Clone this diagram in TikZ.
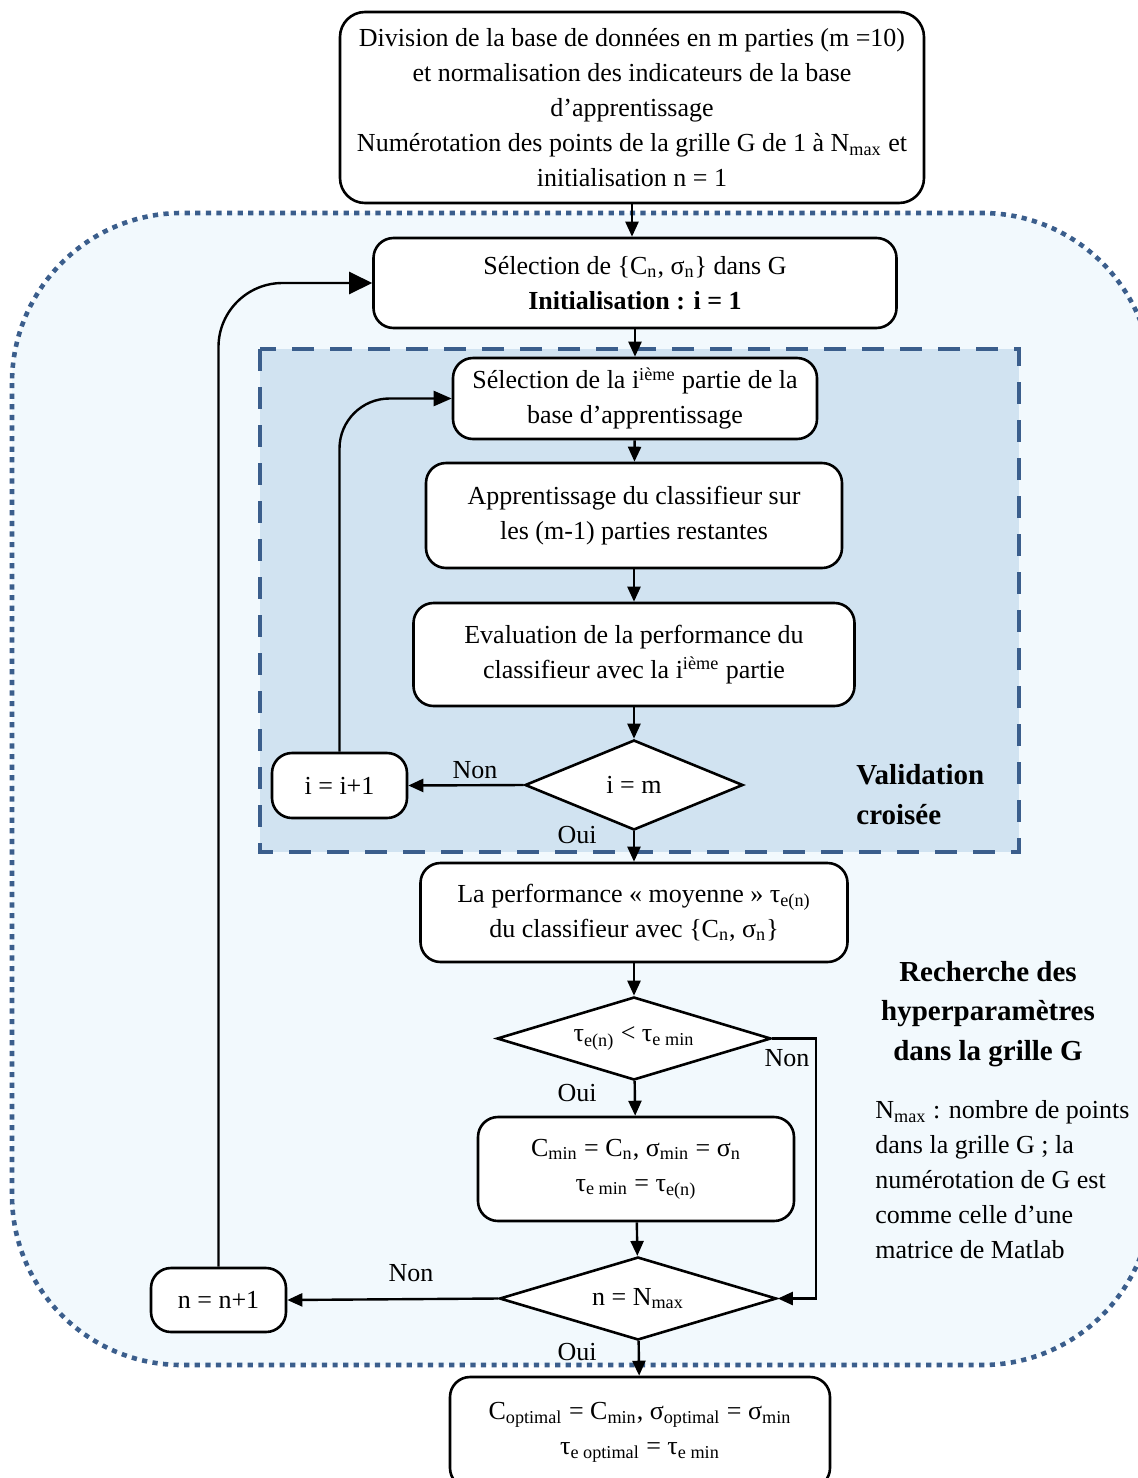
\documentclass[tikz,border=0pt]{standalone}
\usepackage{fontspec}
\setmainfont{Liberation Serif}
\usetikzlibrary{arrows.meta,shapes.geometric}
\definecolor{cvBlue}{HTML}{3B5E8C}
\definecolor{cvFill}{HTML}{D1E3F1}
\definecolor{gridFill}{HTML}{F2F9FD}

\begin{document}
\begin{tikzpicture}[x=0.5pt,y=-0.5pt,
  font=\fontsize{13}{17.5}\selectfont,
  proc/.style={draw, line width=1.3pt, rounded corners=10pt, fill=white, align=center, inner sep=2pt},
  cond/.style={draw, line width=1.3pt, diamond, aspect=3.3, fill=white, inner sep=0pt},
  arr/.style={line width=1.2pt, -{Triangle[length=7.5pt,width=6.5pt]}},
  lbl/.style={inner sep=0pt}]
\useasboundingbox (0,0) rectangle (1138,1478);
% zones
\draw[cvBlue, fill=gridFill, line width=2.3pt, dash pattern=on 2.6pt off 2.7pt, rounded corners=85pt] (12,213) rectangle (1152,1365);
\draw[cvBlue, fill=cvFill, line width=2pt, dash pattern=on 11pt off 8pt] (260,349) rectangle (1019,852);

% boxes
\node[proc, rounded corners=12.5pt, minimum width=292pt, minimum height=95.5pt] (init) at (632,107.5)
  {Division de la base de données en m parties (m =10)\\ et normalisation des indicateurs de la base\\ d’apprentissage\\ Numérotation des points de la grille G de 1 à N\textsubscript{max} et\\ initialisation n = 1};
\node[proc, minimum width=261.5pt, minimum height=45pt] (sel) at (635,283)
  {Sélection de \{C\textsubscript{n}, σ\textsubscript{n}\} dans G\\ \textbf{Initialisation : i = 1}};
\node[proc, minimum width=182pt, minimum height=40.5pt] (part) at (635,398.5)
  {Sélection de la i\textsuperscript{ième} partie de la\\ base d’apprentissage};
\node[proc, minimum width=208pt, minimum height=52.5pt] (appr) at (634,515.5)
  {Apprentissage du classifieur sur\\ les (m-1) parties restantes};
\node[proc, minimum width=220.5pt, minimum height=51.5pt] (eval) at (634,654.5)
  {Evaluation de la performance du\\ classifieur avec la i\textsuperscript{ième} partie};
\node[cond, minimum width=109pt, minimum height=45pt] (im) at (634,785) {i = m};
\node[proc, minimum width=67.5pt, minimum height=32.5pt] (iinc) at (339.5,785.5) {i = i+1};
\node[proc, minimum width=213.5pt, minimum height=49.5pt] (perf) at (634,912.5)
  {La performance « moyenne » τ\textsubscript{e(n)}\\ du classifieur avec \{C\textsubscript{n}, σ\textsubscript{n}\}};
\node[cond, minimum width=137pt, minimum height=41.5pt] (tmin) at (634,1038.5)
  {τ\textsubscript{e(n)} < τ\textsubscript{e min}};
\node[proc, minimum width=158pt, minimum height=52pt] (upd) at (636,1169)
  {C\textsubscript{min} = C\textsubscript{n}, σ\textsubscript{min} = σ\textsubscript{n}\\ τ\textsubscript{e min} = τ\textsubscript{e(n)}};
\node[cond, minimum width=138.5pt, minimum height=41.5pt] (nmax) at (638,1298.5) {n = N\textsubscript{max}};
\node[proc, minimum width=67.5pt, minimum height=32pt] (ninc) at (218.5,1300) {n = n+1};
\node[proc, minimum width=190pt, minimum height=55.5pt] (opt) at (640,1432.5)
  {C\textsubscript{optimal} = C\textsubscript{min}, σ\textsubscript{optimal} = σ\textsubscript{min}\\ τ\textsubscript{e optimal} = τ\textsubscript{e min}};

% titles and notes
\node[lbl, anchor=west, align=left, font=\fontsize{14.5}{20}\selectfont\bfseries] (cvtitle) at (856,795)
  {Validation\\ croisée};
\node[lbl, align=center, font=\fontsize{14.5}{19.75}\selectfont\bfseries] (gridtitle) at (988,1014)
  {Recherche des\\ hyperparamètres\\ dans la grille G};
\node[lbl, anchor=west, align=left] (note) at (875,1180)
  {N\textsubscript{max} : nombre de points\\ dans la grille G ; la\\ numérotation de G est\\ comme celle d’une\\ matrice de Matlab};

% labels
\node[lbl] (non1) at (475,770) {Non};
\node[lbl] (oui1) at (577,835) {Oui};
\node[lbl] (non2) at (787,1058) {Non};
\node[lbl] (oui2) at (577,1093) {Oui};
\node[lbl] (non3) at (411,1273) {Non};
\node[lbl] (oui3) at (577,1352) {Oui};

% connectors
\coordinate (bend) at (816,1038.5);
\draw[arr] (init) -- (init.south |- sel.north);
\draw[arr] (sel) -- (part);
\draw[arr] (part) -- (appr);
\draw[arr] (appr) -- (eval);
\draw[arr] (eval) -- (im);
\draw[arr] (im.west) -- (iinc.east);
\draw[line width=1.2pt, -{Triangle[length=9pt,width=7.5pt]}, rounded corners=25pt] (iinc.north) |- (part.west);
\draw[arr] (im) -- (perf);
\draw[arr] (perf) -- (tmin);
\draw[arr] (tmin) -- (upd);
\draw[arr] (tmin.east) -- (bend) |- (nmax.east);
\draw[arr] (upd) -- (nmax);
\draw[arr] (nmax.west) -- (ninc.east);
\draw[line width=1.2pt, -{Triangle[length=11.5pt,width=11pt]}, rounded corners=32pt] (ninc.north) |- (sel.west);
\draw[arr] (nmax) -- (opt);
\end{tikzpicture}
\end{document}
